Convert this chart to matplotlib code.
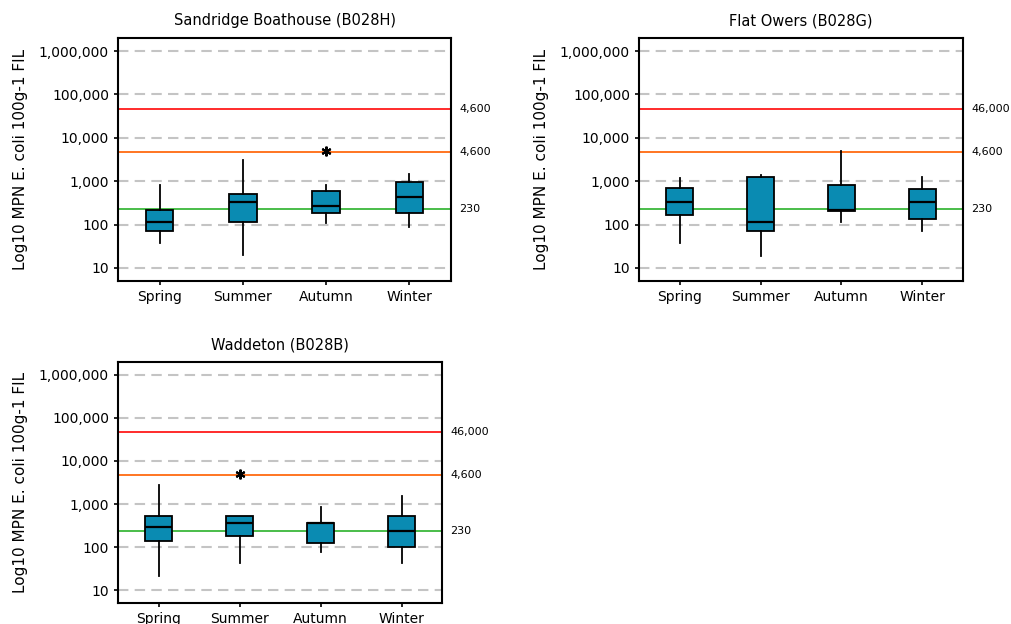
import matplotlib
matplotlib.use("Agg")
import matplotlib.pyplot as plt
from matplotlib.ticker import FixedLocator, FuncFormatter

seasons = ["Spring", "Summer", "Autumn", "Winter"]

# box stats per site: whisker low, q1, median, q3, whisker high
sandridge_lo = [38, 20, 109, 90]
sandridge_q1 = [70, 113, 183, 183]
sandridge_med = [115, 335, 275, 437]
sandridge_q3 = [222, 495, 593, 958]
sandridge_hi = [817, 3050, 817, 1445]
sandridge_fliers = [[], [], [4900], []]

flat_lo = [38, 19, 113, 70]
flat_q1 = [164, 70, 205, 137]
flat_med = [329, 115, 212, 329]
flat_q3 = [708, 1274, 802, 647]
flat_hi = [1167, 1419, 4935, 1274]
flat_fliers = [[], [], [], []]

waddeton_lo = [21, 42, 75, 42]
waddeton_q1 = [135, 179, 121, 101]
waddeton_med = [296, 353, 366, 239]
waddeton_q3 = [523, 523, 366, 523]
waddeton_hi = [2742, 523, 861, 1523]
waddeton_fliers = [[], [4900], [], []]

thresholds = [46000, 4600, 230]
threshold_colors = ["#ff1a1a", "#ff6a10", "#3cb83c"]
sandridge_thr_labels = ["4,600", "4,600", "230"]
other_thr_labels = ["46,000", "4,600", "230"]

sites = [
    ("Sandridge Boathouse (B028H)", sandridge_lo, sandridge_q1, sandridge_med,
     sandridge_q3, sandridge_hi, sandridge_fliers, sandridge_thr_labels,
     [118 / 1011, 1 - 281 / 624, 333 / 1011, 243 / 624]),
    ("Flat Owers (B028G)", flat_lo, flat_q1, flat_med, flat_q3, flat_hi,
     flat_fliers, other_thr_labels,
     [639 / 1011, 1 - 281 / 624, 324 / 1011, 243 / 624]),
    ("Waddeton (B028B)", waddeton_lo, waddeton_q1, waddeton_med, waddeton_q3,
     waddeton_hi, waddeton_fliers, other_thr_labels,
     [118 / 1011, 1 - 603 / 624, 324 / 1011, 241 / 624]),
]

plt.rcParams["font.family"] = "DejaVu Sans"
fig = plt.figure(figsize=(10.11, 6.24), dpi=100)

for title, lo, q1, med, q3, hi, fl, thr_labels, pos in sites:
    ax = fig.add_axes(pos)
    ax.set_yscale("log")
    ax.set_ylim(10 ** 0.7, 10 ** 6.3)
    ax.set_xlim(0.5, 4.5)

    for v in [10, 100, 1000, 10000, 100000, 1000000]:
        ax.axhline(v, color="#c4c4c4", lw=1.5, ls=(0, (5, 3)), zorder=0)
    for v, c in zip(thresholds, threshold_colors):
        ax.axhline(v, color=c, lw=1.3, zorder=1)

    stats = []
    for i in range(len(seasons)):
        stats.append({"whislo": lo[i], "q1": q1[i], "med": med[i], "q3": q3[i],
                      "whishi": hi[i], "fliers": fl[i]})
    ax.bxp(stats, positions=[1, 2, 3, 4], widths=0.33, patch_artist=True,
           showcaps=False,
           boxprops=dict(facecolor="#0a8bb2", edgecolor="black", lw=1.3),
           medianprops=dict(color="black", lw=1.6),
           whiskerprops=dict(color="black", lw=1.3),
           flierprops=dict(marker=(6, 2, 0), markersize=7,
                           markeredgecolor="black", markeredgewidth=1.5),
           zorder=2)

    for v, lab in zip(thresholds, thr_labels):
        ax.annotate(lab, xy=(1, v), xycoords=("axes fraction", "data"),
                    xytext=(6, 0), textcoords="offset points",
                    va="center", ha="left", fontsize=8)

    ax.yaxis.set_major_locator(FixedLocator([10, 100, 1000, 10000, 100000, 1000000]))
    ax.yaxis.set_minor_locator(FixedLocator([]))
    ax.yaxis.set_major_formatter(FuncFormatter(lambda v, p: f"{int(round(v)):,}"))
    ax.set_xticks([1, 2, 3, 4])
    ax.set_xticklabels(seasons)
    ax.tick_params(labelsize=10, length=3, width=1.2)
    for s in ax.spines.values():
        s.set_linewidth(1.5)
    ax.set_ylabel("Log10 MPN E. coli 100g-1 FIL", fontsize=11, labelpad=8)
    ax.set_title(title, fontsize=10.5, pad=9)

fig.savefig("out.png", dpi=100)
